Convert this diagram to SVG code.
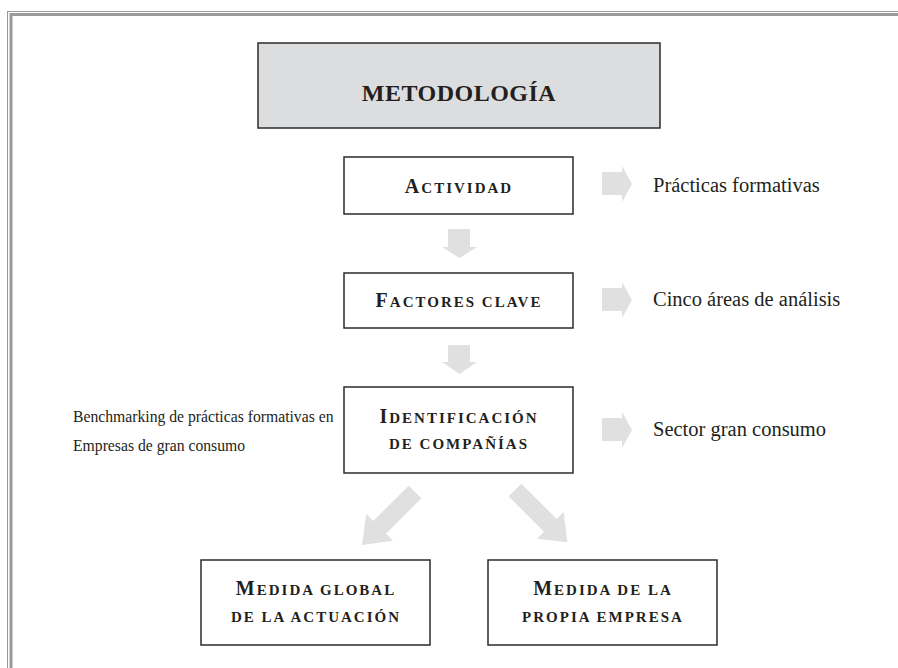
<svg xmlns="http://www.w3.org/2000/svg" width="898" height="668" viewBox="0 0 898 668">
<style>
text{font-family:"Liberation Serif","Times New Roman",serif;fill:#231f20}
.box{fill:#fff;stroke:#2b2b2b;stroke-width:1.5}
.title{fill:#dcdddf;stroke:#2b2b2b;stroke-width:1.5}
.sc{font-weight:bold;font-size:15px;letter-spacing:2px;text-anchor:middle}
.cap{font-size:20px}
.lbl{font-size:20.5px}
.note{font-size:15.7px}
.arr{fill:#e0e0e0}
.frame{fill:none;stroke:#9a9a9a}
</style>
<g id="frame">
<line class="frame" x1="7" y1="11.5" x2="898" y2="11.5" stroke-width="1"/>
<line class="frame" x1="7.5" y1="11" x2="7.5" y2="668" stroke-width="1"/>
<line class="frame" x1="11" y1="14.5" x2="898" y2="14.5" stroke-width="3"/>
<line class="frame" x1="11" y1="13" x2="11" y2="668" stroke-width="3"/>
</g>
<g id="metodologia">
<rect class="title" x="258" y="43" width="402" height="85"/>
<text x="459" y="101" text-anchor="middle" font-weight="bold" font-size="24" letter-spacing="0.5">METODOLOGÍA</text>
</g>
<g id="actividad">
<rect class="box" x="344" y="157" width="229" height="57"/>
<text class="sc" x="459" y="193"><tspan class="cap">A</tspan>CTIVIDAD</text>
</g>
<g id="factores">
<rect class="box" x="344" y="273" width="229" height="55"/>
<text class="sc" x="459" y="307"><tspan class="cap">F</tspan>ACTORES CLAVE</text>
</g>
<g id="identificacion">
<rect class="box" x="344" y="387" width="229" height="86"/>
<text class="sc" x="459" y="423"><tspan class="cap">I</tspan>DENTIFICACIÓN</text>
<text class="sc" x="459" y="449">DE COMPAÑÍAS</text>
</g>
<g id="medida-global">
<rect class="box" x="201" y="560" width="229" height="85"/>
<text class="sc" x="316" y="595"><tspan class="cap">M</tspan>EDIDA GLOBAL</text>
<text class="sc" x="316" y="622">DE LA ACTUACIÓN</text>
</g>
<g id="medida-propia">
<rect class="box" x="488" y="560" width="229" height="85"/>
<text class="sc" x="603" y="595"><tspan class="cap">M</tspan>EDIDA DE LA</text>
<text class="sc" x="603" y="622">PROPIA EMPRESA</text>
</g>
<g id="label-practicas"><text class="lbl" x="653" y="192">Prácticas formativas</text></g>
<g id="label-cinco"><text class="lbl" x="653" y="306">Cinco áreas de análisis</text></g>
<g id="label-sector"><text class="lbl" x="653" y="436">Sector gran consumo</text></g>
<g id="label-benchmarking">
<text class="note" x="73" y="422">Benchmarking de prácticas formativas en</text>
<text class="note" x="73" y="451">Empresas de gran consumo</text>
</g>
<g id="connectors">
<path class="arr" d="M602,172 H622 V166 L632,184 L622,202 V195 H602 Z"/>
<path class="arr" d="M602,288 H622 V282 L632,300 L622,318 V311 H602 Z"/>
<path class="arr" d="M602,418 H622 V412 L632,430 L622,448 V441 H602 Z"/>
<path class="arr" d="M448,229 H470 V247 H477 L459.5,258 L442,247 H448 Z"/>
<path class="arr" d="M448,345 H470 V362 H477 L459.5,374 L442,362 H448 Z"/>
<path class="arr" transform="translate(415,492) rotate(135)" d="M0,-9 H50 V-19 L75,0 L50,19 V9 H0 Z"/>
<path class="arr" transform="translate(515,490) rotate(45)" d="M0,-9 H50 V-19 L74,0 L50,19 V9 H0 Z"/>
</g>
</svg>
